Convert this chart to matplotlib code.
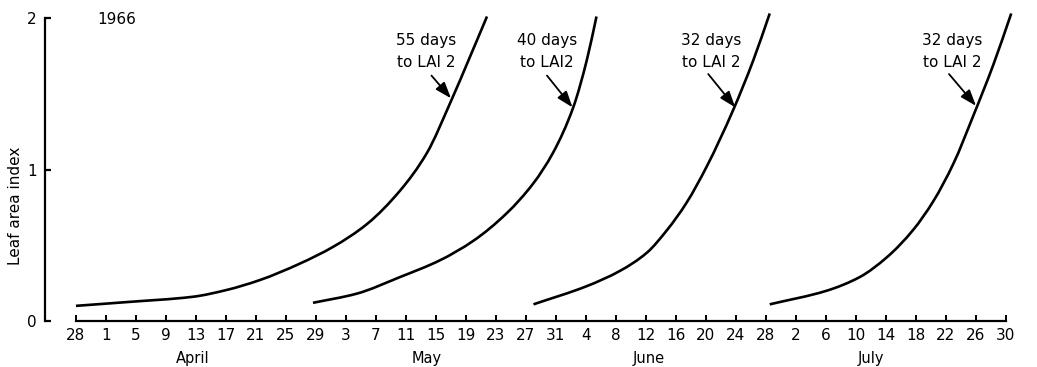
import numpy as np
import matplotlib
matplotlib.use('Agg')
import matplotlib.pyplot as plt
from matplotlib.path import Path
from matplotlib.patches import PathPatch

# days counted from 28 March 1966
tick_labels = ['28', '1', '5', '9', '13', '17', '21', '25', '29', '3', '7', '11',
               '15', '19', '23', '27', '31', '4', '8', '12', '16', '20', '24', '28',
               '2', '6', '10', '14', '18', '22', '26', '30']
months = ['April', 'May', 'June', 'July']
month_pos = [15.6, 46.8, 76.4, 106.0]

sow1_day = [0, 6.8, 15.6, 20.1, 24.5, 29.9, 34.3, 38.8, 43.2, 46.8, 49.9, 52.5, 54.8]
sow1_lai = [0.10, 0.125, 0.16, 0.205, 0.27, 0.38, 0.49, 0.64, 0.86, 1.11, 1.44, 1.74, 2.01]

sow2_day = [31.6, 37.4, 43.2, 48.5, 53.0, 57.4, 61.0, 63.6, 66.3, 68.1, 69.4]
sow2_lai = [0.12, 0.18, 0.29, 0.40, 0.53, 0.71, 0.91, 1.11, 1.41, 1.72, 2.01]

sow3_day = [61.0, 68.1, 72.5, 76.1, 78.8, 81.4, 84.1, 87.6, 90.3, 92.5]
sow3_lai = [0.11, 0.23, 0.33, 0.45, 0.60, 0.78, 1.02, 1.39, 1.72, 2.03]

sow4_day = [92.5, 100.1, 104.5, 108.1, 111.6, 114.3, 117.0, 119.6, 122.3, 124.7]
sow4_lai = [0.11, 0.20, 0.29, 0.42, 0.60, 0.79, 1.04, 1.35, 1.69, 2.03]

notes = ['55 days\nto LAI 2', '40 days\nto LAI2', '32 days\nto LAI 2', '32 days\nto LAI 2']
note_text = [(46.7, 1.78), (62.8, 1.78), (84.7, 1.78), (116.8, 1.78)]
note_tail = [(47.4, 1.62), (62.8, 1.62), (84.3, 1.63), (116.4, 1.63)]
note_tip = [(50.0, 1.47), (66.2, 1.41), (87.9, 1.41), (120.0, 1.42)]


def smooth_path(x, y):
    # bezier segments through the read points (monotone tangents)
    x = np.asarray(x, float)
    y = np.asarray(y, float)
    h = np.diff(x)
    d = np.diff(y) / h
    m = np.zeros_like(x)
    m[0], m[-1] = d[0], d[-1]
    for i in range(1, len(x) - 1):
        if d[i - 1] * d[i] > 0:
            w1 = 2 * h[i] + h[i - 1]
            w2 = h[i] + 2 * h[i - 1]
            m[i] = (w1 + w2) / (w1 / d[i - 1] + w2 / d[i])
    verts = [(x[0], y[0])]
    codes = [Path.MOVETO]
    for i in range(len(x) - 1):
        verts += [(x[i] + h[i] / 3, y[i] + m[i] * h[i] / 3),
                  (x[i + 1] - h[i] / 3, y[i + 1] - m[i + 1] * h[i] / 3),
                  (x[i + 1], y[i + 1])]
        codes += [Path.CURVE4] * 3
    return Path(verts, codes)


plt.rcParams['font.family'] = ['DejaVu Sans']

fig = plt.figure(figsize=(10.37, 3.67), dpi=100)
ax = fig.add_axes([45 / 1037, 1 - 321 / 367, (1030 - 45) / 1037, (321 - 18) / 367])
ax.set_xlim(-4.13, 127.2)
ax.set_ylim(0, 2)

for d, l in [(sow1_day, sow1_lai), (sow2_day, sow2_lai),
             (sow3_day, sow3_lai), (sow4_day, sow4_lai)]:
    ax.add_patch(PathPatch(smooth_path(d, l), facecolor='none', edgecolor='black',
                           linewidth=1.9, clip_on=False, capstyle='butt'))

for txt, tp, tail, tip in zip(notes, note_text, note_tail, note_tip):
    ax.text(tp[0], tp[1], txt, ha='center', va='center', fontsize=11,
            linespacing=1.55)
    ax.annotate('', xy=tip, xytext=tail,
                arrowprops=dict(arrowstyle='-|>,head_length=0.7,head_width=0.25',
                                color='black', lw=1.3, mutation_scale=14,
                                shrinkA=0, shrinkB=0))

for s in ['top', 'right']:
    ax.spines[s].set_visible(False)
ax.spines['left'].set_linewidth(1.6)
ax.spines['bottom'].set_linewidth(1.6)
ax.spines['left'].set_bounds(0, 2)
ax.spines['bottom'].set_bounds(0, 124)

ax.set_xticks(np.arange(0, 125, 4))
ax.set_xticklabels(tick_labels)
ax.set_yticks([0, 1, 2])
ax.set_yticklabels(['0', '1', '2'])
ax.tick_params(axis='x', direction='in', length=4, width=1.4, pad=5, labelsize=11)
ax.tick_params(axis='y', direction='in', length=4, width=1.6, pad=6, labelsize=11)

for m, p in zip(months, month_pos):
    ax.text(p, -0.25, m, ha='center', va='center', fontsize=10.5, clip_on=False)

ax.text(-8.1, 0.76, 'Leaf area index', rotation=90, ha='center', va='center',
        fontsize=11)
ax.text(5.5, 1.99, '1966', ha='center', va='center', fontsize=11)

fig.savefig('out.png', dpi=100)
